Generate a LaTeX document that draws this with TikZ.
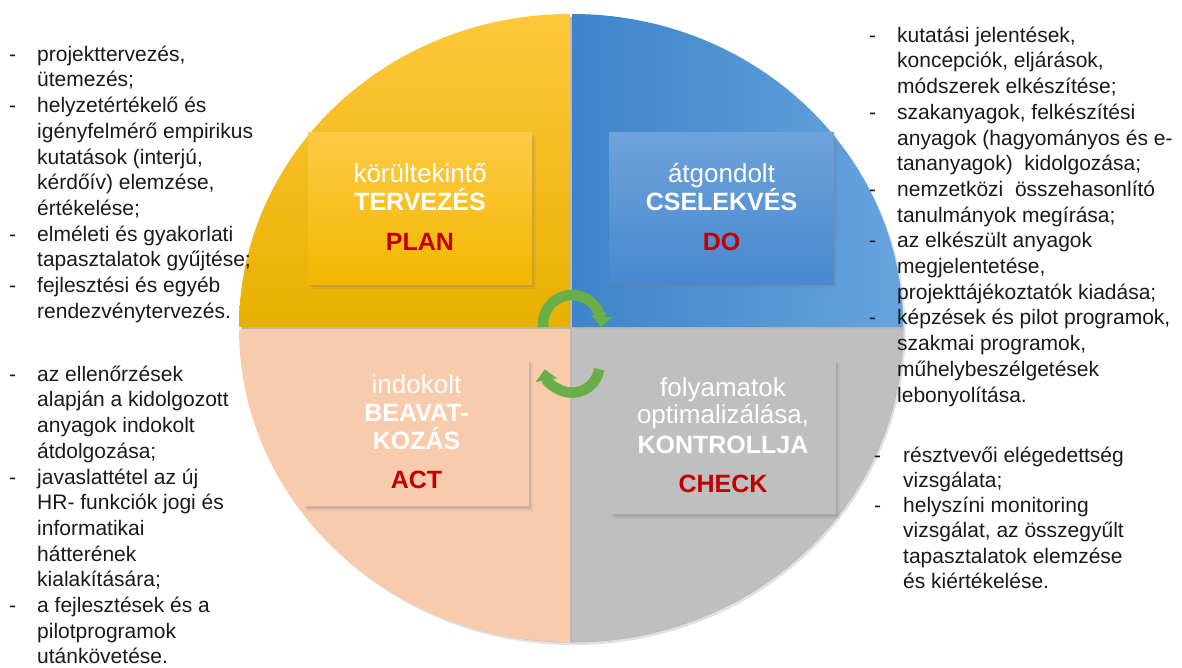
\documentclass[tikz,border=0pt]{standalone}
\usepackage{fontspec}
\setmainfont{Liberation Sans}
\usetikzlibrary{shadows,arrows.meta}
\definecolor{yTop}{HTML}{FFC83C}
\definecolor{yBot}{HTML}{E8B000}
\definecolor{bL}{HTML}{3D84C9}
\definecolor{bR}{HTML}{66A4DF}
\definecolor{peach}{HTML}{F8CBAD}
\definecolor{grq}{HTML}{BFBFBF}
\definecolor{pTop}{HTML}{FFCA45}
\definecolor{pBot}{HTML}{F2B700}
\definecolor{dTop}{HTML}{6EA3DA}
\definecolor{dBot}{HTML}{4788CF}
\definecolor{dred}{HTML}{C00000}
\definecolor{grn}{HTML}{6AAE47}
\definecolor{txt}{HTML}{1A1A1A}
\newcommand\itm{\makebox[28pt][l]{-}}
\newcommand\cnt{\hspace*{28pt}}
\newcommand\itmb{\makebox[29pt][l]{-}}
\newcommand\cntb{\hspace*{29pt}}
\begin{document}
\begin{tikzpicture}[x=1pt,y=-1pt,
  box/.style={inner sep=0pt, minimum width=#1, draw=none,
    drop shadow={opacity=0.12, shadow xshift=3.5pt, shadow yshift=-4.5pt},
    drop shadow={opacity=0.25, shadow xshift=2pt, shadow yshift=-2.5pt}},
  wt/.style={anchor=base, inner sep=0pt, text=white, font=\fontsize{26}{30}\selectfont},
  wtb/.style={anchor=base, inner sep=0pt, text=white, font=\fontsize{25}{30}\selectfont\bfseries},
  rd/.style={anchor=base, inner sep=0pt, text=dred, font=\fontsize{25}{30}\selectfont\bfseries},
  side/.style={anchor=north west, inner sep=0pt, align=left, text=txt,
    font=\fontsize{21}{25.7}\selectfont},
  garrow/.style={draw=grn, line width=10.5pt, -{Triangle[width=21pt,length=11pt]}}]
\useasboundingbox (0,0) rectangle (1182,667);

% circle shadow
\fill[black!12] (573.5,331) ellipse[x radius=332, y radius=314];
\fill[black!28] (572.5,329.5) ellipse[x radius=331, y radius=313];

% quadrants
\path[top color=yTop, bottom color=yBot] (570,327) -- ++(-331,0)
  arc[start angle=180, end angle=270, x radius=331, y radius=313] -- cycle;
\path[left color=bL, right color=bR] (572,327) -- ++(0,-313)
  arc[start angle=270, end angle=360, x radius=331, y radius=313] -- cycle;
\path[fill=grq] (572,329) -- ++(331,0)
  arc[start angle=0, end angle=90, x radius=331, y radius=313] -- cycle;
\path[fill=peach] (570,329) -- ++(0,313)
  arc[start angle=90, end angle=180, x radius=331, y radius=313] -- cycle;

% boxes
\node[box=224pt, minimum height=152pt, top color=pTop, bottom color=pBot] (plan) at (420,208) {};
\node[box=225pt, minimum height=152pt, top color=dTop, bottom color=dBot] (do) at (721.5,208) {};
\node[box=225pt, minimum height=147pt, fill=peach] (act) at (416.5,432.5) {};
\node[box=226pt, minimum height=155pt, fill=grq] (check) at (723,436.5) {};

% box texts
\node[wt] (plan1) at (420,182.5) {körültekintő};
\node[wtb] (plan2) at (420,210) {TERVEZÉS};
\node[rd] (plan3) at (420,250) {PLAN};

\node[wt] (do1) at (721.5,182.5) {átgondolt};
\node[wtb] (do2) at (721.5,210) {CSELEKVÉS};
\node[rd] (do3) at (721.5,250) {DO};

\node[wt] (act1) at (416.5,393) {indokolt};
\node[wtb] (act2) at (416.5,421) {BEAVAT-};
\node[wtb] (act3) at (416.5,449) {KOZÁS};
\node[rd] (act4) at (416.5,488) {ACT};

\node[wt] (ch1) at (723,396.5) {folyamatok};
\node[wt] (ch2) at (723,423.5) {optimalizálása,};
\node[wtb] (ch3) at (723,453) {KONTROLLJA};
\node[rd] (ch4) at (723,492.5) {CHECK};

% cycle arrows
\draw[garrow] (572,324) ++(174:29) arc[start angle=174, end angle=366, radius=29];
\draw[garrow] (572,365) ++(9:27.6) arc[start angle=9, end angle=171, radius=27.6];

% side texts
\node[side] (left1) at (9,43) {\rule{0pt}{18pt}\itm projekttervezés,\\
\cnt ütemezés;\\
\itm helyzetértékelő és\\
\cnt igényfelmérő empirikus\\
\cnt kutatások (interjú,\\
\cnt kérdőív) elemzése,\\
\cnt értékelése;\\
\itm elméleti és gyakorlati\\
\cnt tapasztalatok gyűjtése;\\
\itm fejlesztési és egyéb\\
\cnt rendezvénytervezés.};

\node[side] (left2) at (9,363) {\rule{0pt}{18pt}\itm az ellenőrzések\\
\cnt alapján a kidolgozott\\
\cnt anyagok indokolt\\
\cnt átdolgozása;\\
\itm javaslattétel az új\\
\cnt HR- funkciók jogi és\\
\cnt informatikai\\
\cnt hátterének\\
\cnt kialakítására;\\
\itm a fejlesztések és a\\
\cnt pilotprogramok\\
\cnt utánkövetése.};

\node[side] (right1) at (869,24) {\rule{0pt}{18pt}\itm kutatási jelentések,\\
\cnt koncepciók, eljárások,\\
\cnt módszerek elkészítése;\\
\itm szakanyagok, felkészítési\\
\cnt anyagok (hagyományos és e-\\
\cnt tananyagok)\ \ kidolgozása;\\
\itm nemzetközi\ \ összehasonlító\\
\cnt tanulmányok megírása;\\
\itm az elkészült anyagok\\
\cnt megjelentetése,\\
\cnt projekttájékoztatók kiadása;\\
\itm képzések és pilot programok,\\
\cnt szakmai programok,\\
\cnt műhelybeszélgetések\\
\cnt lebonyolítása.};

\node[side, font=\fontsize{21}{25.2}\selectfont] (right2) at (874,444) {\rule{0pt}{18pt}\itmb résztvevői elégedettség\\
\cntb vizsgálata;\\
\itmb helyszíni monitoring\\
\cntb vizsgálat, az összegyűlt\\
\cntb tapasztalatok elemzése\\
\cntb és kiértékelése.};
\end{tikzpicture}
\end{document}
